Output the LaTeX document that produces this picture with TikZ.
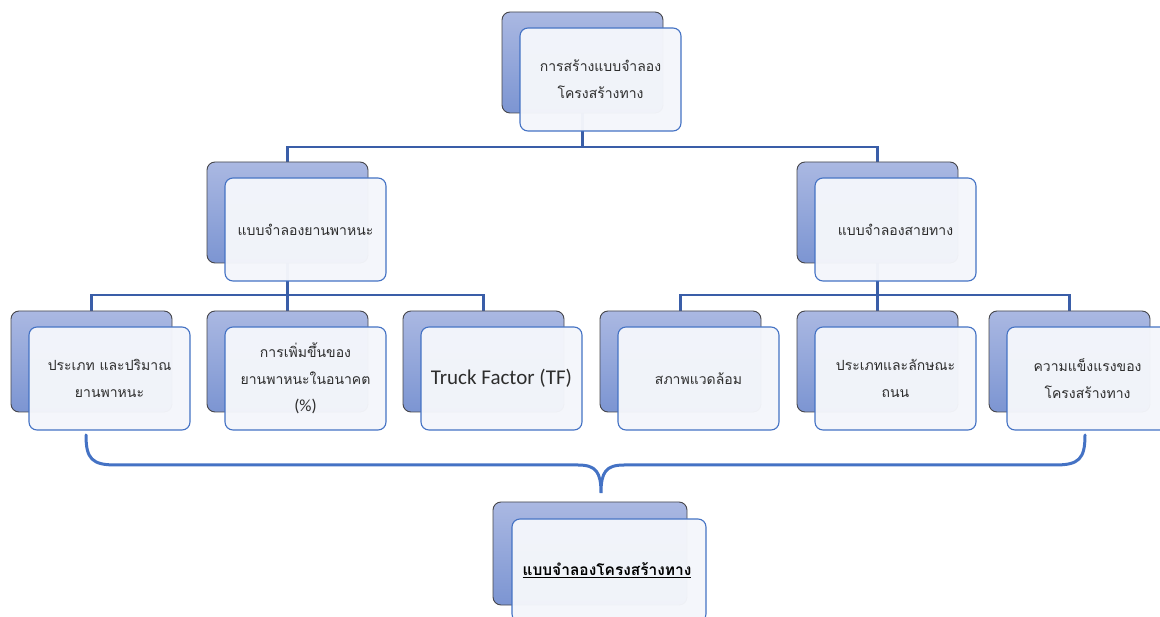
\documentclass[tikz,border=0pt]{standalone}
\usepackage{fontspec}
\newfontfamily\thai[Script=Thai]{Loma}
\newfontfamily\calib{Carlito}
\pgfdeclarelayer{background}
\pgfsetlayers{background,main}
\definecolor{backtop}{RGB}{170,184,226}
\definecolor{backbot}{RGB}{124,149,210}
\definecolor{backedge}{RGB}{70,70,75}
\definecolor{frontfill}{RGB}{244,246,251}
\definecolor{frontedge}{RGB}{68,114,196}
\definecolor{connc}{RGB}{58,94,168}
\definecolor{bracec}{RGB}{68,114,196}
\definecolor{txt}{RGB}{45,45,45}
\tikzset{
  backbox/.style={draw=backedge, line width=0.9pt, rounded corners=8pt,
    top color=backtop, bottom color=backbot, minimum width=161pt,
    minimum height=101pt, inner sep=0pt},
  frontbox/.style={draw=frontedge, line width=1.1pt, rounded corners=8pt,
    fill=frontfill, fill opacity=0.97, text opacity=1, minimum width=161pt,
    minimum height=103pt, inner sep=0pt, align=center, text=txt,
    font=\thai\fontsize{14}{27}\selectfont},
  conn/.style={draw=connc, line width=2.4pt},
  bracestyle/.style={draw=bracec, line width=3pt, line cap=round}
}
\newcommand{\unitbox}[5]{%
  \node[backbox] (#1-b) at (#2,#3) {};
  \node[frontbox] (#1) at (#2+18,#3+17) {#4};
}
\begin{document}
\begin{tikzpicture}[x=1pt,y=-1pt]
\useasboundingbox (0,0) rectangle (1160,617);
\unitbox{top}{582.5}{62.5}{การสร้างแบบจำลอง\\โครงสร้างทาง}{}
\unitbox{va}{287.5}{212.5}{แบบจำลองยานพาหนะ}{}
\unitbox{ro}{877.5}{212.5}{แบบจำลองสายทาง}{}
\unitbox{c1}{91.5}{361.5}{ประเภท และปริมาณ\\ยานพาหนะ}{}
\unitbox{c2}{287.5}{361.5}{การเพิ่มขึ้นของ\\ยานพาหนะในอนาคต\\{\calib\fontsize{17}{20}\selectfont(\%)}}{}
\unitbox{c3}{483.5}{361.5}{{\calib\fontsize{21}{24}\selectfont Truck Factor (TF)}}{}
\unitbox{c4}{680.5}{361.5}{สภาพแวดล้อม}{}
\unitbox{c5}{877.5}{361.5}{ประเภทและลักษณะ\\ถนน}{}
\unitbox{c6}{1069.5}{361.5}{ความแข็งแรงของ\\โครงสร้างทาง}{}
\node[backbox, minimum width=194pt, minimum height=103pt] (fin-b) at (590,553.5) {};
\node[frontbox, minimum width=194pt, minimum height=103pt] (fin) at (609,570.5) {};
\node[font=\thai\bfseries\fontsize{15.5}{27}\selectfont, text=black] (fint) at (607,570) {\underline{แบบจำลองโครงสร้างทาง}};
\begin{pgfonlayer}{background}
\coordinate (j1) at (582.5,147);
\coordinate (j2) at (287.5,295);
\coordinate (j3) at (877.5,295);
\draw[conn] (top-b.south) -- (j1);
\draw[conn] (j1) -| (va-b.north);
\draw[conn] (j1) -| (ro-b.north);
\draw[conn] (va-b.south) -- (j2);
\draw[conn] (j2) -| (c1-b.north);
\draw[conn] (j2) -| (c2-b.north);
\draw[conn] (j2) -| (c3-b.north);
\draw[conn] (ro-b.south) -- (j3);
\draw[conn] (j3) -| (c4-b.north);
\draw[conn] (j3) -| (c5-b.north);
\draw[conn] (j3) -| (c6-b.north);
\end{pgfonlayer}
\draw[bracestyle] (86,435) .. controls (86,459) and (92,465) .. (116,465)
  -- (578,465) .. controls (596,465) and (601,472) .. (601,493)
  .. controls (601,472) and (606,465) .. (624,465)
  -- (1055,465) .. controls (1079,465) and (1085,459) .. (1085,435);
\end{tikzpicture}
\end{document}
